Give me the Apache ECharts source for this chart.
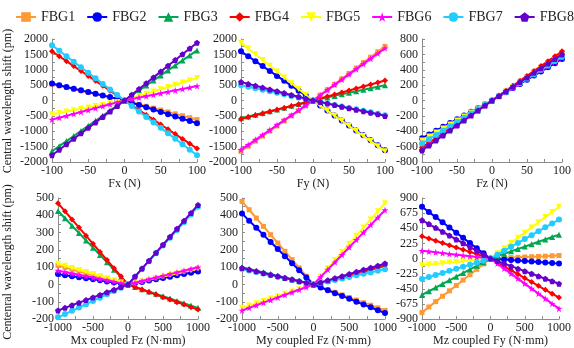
<!DOCTYPE html>
<html>
<head>
<meta charset="utf-8">
<script src="https://cdn.jsdelivr.net/npm/echarts@6/dist/echarts.min.js"></script>
<style>html,body{margin:0;padding:0;background:#fff}#c{width:574px;height:348px}</style>
</head>
<body>
<div id="c"></div>
<script>
// ---------- categories / x values ----------
const seriesNames = ['FBG1','FBG2','FBG3','FBG4','FBG5','FBG6','FBG7','FBG8'];
const xForce  = [-100,-90,-80,-70,-60,-50,-40,-30,-20,-10,0,10,20,30,40,50,60,70,80,90,100];
const xMoment = [-1000,-900,-800,-700,-600,-500,-400,-300,-200,-100,0,100,200,300,400,500,600,700,800,900,1000];
const xAxisNames = ['Fx (N)','Fy (N)','Fz (N)','Mx coupled Fz (N\u00b7mm)','My coupled Fz (N\u00b7mm)','Mz coupled Fy (N\u00b7mm)'];
const yTitleTop = 'Central wavelength shift (pm)';
const yTitleBottom = 'Centenral wavelength shift (pm)';

// ---------- Fx ----------
const fx1 = [530,477,424,371,318,265,212,159,106,53,0,-62,-124,-186,-248,-310,-372,-434,-496,-558,-620];
const fx2 = [550,495,440,385,330,275,220,165,110,55,0,-74,-148,-222,-296,-370,-444,-518,-592,-666,-740];
const fx3 = [-1650,-1485,-1320,-1155,-990,-825,-660,-495,-330,-165,0,163,326,489,652,815,978,1141,1304,1467,1630];
const fx4 = [1600,1440,1280,1120,960,800,640,480,320,160,0,-156,-312,-468,-624,-780,-936,-1092,-1248,-1404,-1560];
const fx5 = [-450,-405,-360,-315,-270,-225,-180,-135,-90,-45,0,73,146,219,292,365,438,511,584,657,730];
const fx6 = [-620,-558,-496,-434,-372,-310,-248,-186,-124,-62,0,47,94,141,188,235,282,329,376,423,470];
const fx7 = [1800,1620,1440,1260,1080,900,720,540,360,180,0,-178,-356,-534,-712,-890,-1068,-1246,-1424,-1602,-1780];
const fx8 = [-1780,-1602,-1424,-1246,-1068,-890,-712,-534,-356,-178,0,188,376,564,752,940,1128,1316,1504,1692,1880];

// ---------- Fy ----------
const fy1 = [-1650,-1485,-1320,-1155,-990,-825,-660,-495,-330,-165,0,176,352,528,704,880,1056,1232,1408,1584,1760];
const fy2 = [1600,1440,1280,1120,960,800,640,480,320,160,0,-162,-324,-486,-648,-810,-972,-1134,-1296,-1458,-1620];
const fy3 = [-580,-522,-464,-406,-348,-290,-232,-174,-116,-58,0,50,100,150,200,250,300,350,400,450,500];
const fy4 = [-600,-540,-480,-420,-360,-300,-240,-180,-120,-60,0,65,130,195,260,325,390,455,520,585,650];
const fy5 = [1880,1692,1504,1316,1128,940,752,564,376,188,0,-165,-330,-495,-660,-825,-990,-1155,-1320,-1485,-1650];
const fy6 = [-1600,-1440,-1280,-1120,-960,-800,-640,-480,-320,-160,0,170,340,510,680,850,1020,1190,1360,1530,1700];
const fy7 = [500,450,400,350,300,250,200,150,100,50,0,-48,-96,-144,-192,-240,-288,-336,-384,-432,-480];
const fy8 = [600,540,480,420,360,300,240,180,120,60,0,-50,-100,-150,-200,-250,-300,-350,-400,-450,-500];

// ---------- Fz ----------
const fz1 = [-620,-558,-496,-434,-372,-310,-248,-186,-124,-62,0,62,124,186,248,310,372,434,496,558,620];
const fz2 = [-490,-441,-392,-343,-294,-245,-196,-147,-98,-49,0,54,108,162,216,270,324,378,432,486,540];
const fz3 = [-630,-567,-504,-441,-378,-315,-252,-189,-126,-63,0,60,120,180,240,300,360,420,480,540,600];
const fz4 = [-610,-549,-488,-427,-366,-305,-244,-183,-122,-61,0,64,128,192,256,320,384,448,512,576,640];
const fz5 = [-520,-468,-416,-364,-312,-260,-208,-156,-104,-52,0,58,116,174,232,290,348,406,464,522,580];
const fz6 = [-640,-576,-512,-448,-384,-320,-256,-192,-128,-64,0,56,112,168,224,280,336,392,448,504,560];
const fz7 = [-560,-504,-448,-392,-336,-280,-224,-168,-112,-56,0,57,114,171,228,285,342,399,456,513,570];
const fz8 = [-650,-585,-520,-455,-390,-325,-260,-195,-130,-65,0,60,120,180,240,300,360,420,480,540,600];

// ---------- Mx coupled Fz ----------
const mx1 = [110,99,88,77,66,55,44,33,22,11,0,8,16,24,32,40,48,56,64,72,80];
const mx2 = [60,54,48,42,36,30,24,18,12,6,0,8,15,23,30,38,45,53,60,68,75];
const mx3 = [425,383,340,298,255,213,170,128,85,43,0,-14,-27,-41,-54,-68,-81,-95,-108,-122,-135];
const mx4 = [470,423,376,329,282,235,188,141,94,47,0,-15,-29,-44,-58,-73,-87,-102,-116,-131,-145];
const mx5 = [120,108,96,84,72,60,48,36,24,12,0,9,18,28,37,46,55,64,74,83,92];
const mx6 = [80,72,64,56,48,40,32,24,16,8,0,10,20,30,40,50,60,70,80,90,100];
const mx7 = [-190,-171,-152,-133,-114,-95,-76,-57,-38,-19,0,45,90,135,180,225,270,315,360,405,450];
const mx8 = [-150,-135,-120,-105,-90,-75,-60,-45,-30,-15,0,46,92,138,184,230,276,322,368,414,460];

// ---------- My coupled Fz ----------
const my1 = [480,432,384,336,288,240,192,144,96,48,0,-15,-30,-45,-60,-75,-90,-105,-120,-135,-150];
const my2 = [410,369,328,287,246,205,164,123,82,41,0,-17,-33,-50,-66,-83,-99,-116,-132,-149,-165];
const my3 = [100,90,80,70,60,50,40,30,20,10,0,11,21,32,42,53,63,74,84,95,105];
const my4 = [92,83,74,64,55,46,37,28,18,9,0,11,22,34,45,56,67,78,90,101,112];
const my5 = [-135,-122,-108,-95,-81,-68,-54,-41,-27,-14,0,47,94,141,188,235,282,329,376,423,470];
const my6 = [-150,-135,-120,-105,-90,-75,-60,-45,-30,-15,0,43,86,129,172,215,258,301,344,387,430];
const my7 = [90,81,72,63,54,45,36,27,18,9,0,9,18,26,35,44,53,62,70,79,88];
const my8 = [95,86,76,67,57,48,38,29,19,10,0,12,24,36,48,61,73,85,97,109,121];

// ---------- Mz coupled Fy ----------
const mz1 = [-800,-720,-640,-560,-480,-400,-320,-240,-160,-80,0,5,9,14,18,23,27,32,36,41,45];
const mz2 = [770,693,616,539,462,385,308,231,154,77,0,-8,-15,-23,-30,-38,-45,-53,-60,-68,-75];
const mz3 = [-540,-486,-432,-378,-324,-270,-216,-162,-108,-54,0,36,71,107,142,178,213,249,284,320,355];
const mz4 = [330,297,264,231,198,165,132,99,66,33,0,-58,-116,-174,-232,-290,-348,-406,-464,-522,-580];
const mz5 = [-100,-90,-80,-70,-60,-50,-40,-30,-20,-10,0,77,154,231,308,385,462,539,616,693,770];
const mz6 = [115,104,92,81,69,58,46,35,23,12,0,-75,-149,-224,-298,-373,-447,-522,-596,-671,-745];
const mz7 = [-305,-275,-244,-214,-183,-153,-122,-92,-61,-31,0,58,116,174,232,290,348,406,464,522,580];
const mz8 = [570,513,456,399,342,285,228,171,114,57,0,-38,-75,-113,-150,-188,-225,-263,-300,-338,-375];

const panelSeries = [
  [fx1,fx2,fx3,fx4,fx5,fx6,fx7,fx8],
  [fy1,fy2,fy3,fy4,fy5,fy6,fy7,fy8],
  [fz1,fz2,fz3,fz4,fz5,fz6,fz7,fz8],
  [mx1,mx2,mx3,mx4,mx5,mx6,mx7,mx8],
  [my1,my2,my3,my4,my5,my6,my7,my8],
  [mz1,mz2,mz3,mz4,mz5,mz6,mz7,mz8]
];
const panelX = [xForce,xForce,xForce,xMoment,xMoment,xMoment];

// axis ranges (tick labels)
const yMin = [-2000,-2000,-800,-200,-200,-900];
const yMax = [2000,2000,800,500,500,900];
const yStep = [500,500,200,100,100,225];
const xMin = [-100,-100,-100,-1000,-1000,-1000];
const xMax = [100,100,100,1000,1000,1000];
const xStep = [50,50,50,500,500,500];

// ---------- styling ----------
const colors = ['#FF9933','#0000FF','#00A651','#FF0000','#FFFF00','#FF00FF','#22CCFF','#6600CC'];
const starPath = 'path://M50,0 L61,35 L98,35 L68,57 L79,91 L50,70 L21,91 L32,57 L2,35 L39,35 Z';
const pentPath = 'path://M50,0 L98,35 L79,91 L21,91 L2,35 Z';
const symbols = ['rect','circle','triangle','diamond','triangle',starPath,'circle',pentPath];
const symbolRot = [0,0,0,0,180,0,0,0];
const symbolSz = [5,6,6,6,6,7,6,6];
const FONT = 'Liberation Serif';

const grids = [
  {left:52, top:39, width:145, height:123},
  {left:241, top:39, width:144, height:123},
  {left:422, top:39, width:141, height:123},
  {left:58, top:198, width:140, height:125},
  {left:242, top:198, width:143, height:125},
  {left:422, top:198, width:141, height:125}
];

const axisGray = '#8c8c8c';
const plain = v => String(v);
const xAxes = [], yAxes = [], series = [];
for (let p = 0; p < 6; p++) {
  xAxes.push({
    type:'value', gridIndex:p, min:xMin[p], max:xMax[p], interval:xStep[p],
    name:xAxisNames[p], nameLocation:'middle', nameGap: p<3 ? 11 : 13,
    nameTextStyle:{fontFamily:FONT, fontSize:12, color:'#222'},
    axisLine:{show:true, onZero:false, lineStyle:{color:axisGray, width:1}},
    axisTick:{show:true, inside:true, length:3, lineStyle:{color:axisGray}},
    minorTick:{show:true, splitNumber:2, length:3, lineStyle:{color:axisGray}},
    splitLine:{show:false},
    axisLabel:{fontFamily:FONT, fontSize:12, color:'#222', margin:3, formatter:plain, showMinLabel:true, showMaxLabel:true}
  });
  yAxes.push({
    type:'value', gridIndex:p, min:yMin[p], max:yMax[p], interval:yStep[p],
    axisLine:{show:true, onZero:false, lineStyle:{color:axisGray, width:1}},
    axisTick:{show:true, inside:true, length:3, lineStyle:{color:axisGray}},
    minorTick:{show:true, splitNumber:2, length:3, lineStyle:{color:axisGray}},
    splitLine:{show:false},
    axisLabel:{fontFamily:FONT, fontSize:12, color:'#222', margin:4, formatter:plain, showMinLabel:true, showMaxLabel:true}
  });
  const xs = panelX[p];
  panelSeries[p].forEach((ys, s) => {
    series.push({
      name:seriesNames[s], type:'line', xAxisIndex:p, yAxisIndex:p,
      data: xs.map((x,i) => [x, ys[i]]),
      symbol:symbols[s], symbolRotate:symbolRot[s], symbolSize:symbolSz[s],
      showSymbol:true, clip:false,
      lineStyle:{color:colors[s], width:2},
      itemStyle:{color:colors[s], borderWidth:0},
      emphasis:{disabled:true},
      z: 2 + s
    });
  });
}

const chart = echarts.init(document.getElementById('c'), null, {renderer:'canvas'});
chart.setOption({
  animation:false,
  backgroundColor:'#fff',
  legend:{
    data:seriesNames, left:15, top:10, padding:0, itemGap:11, itemWidth:20, itemHeight:12,
    textStyle:{fontFamily:FONT, fontSize:14, color:'#222'}
  },
  grid:grids,
  xAxis:xAxes,
  yAxis:yAxes,
  series:series,
  graphic:[
    {type:'text', x:8, y:101, rotation:Math.PI/2,
     style:{text:yTitleTop, fontFamily:FONT, fontSize:12, fill:'#222', align:'center', verticalAlign:'middle'}},
    {type:'text', x:8, y:262, rotation:Math.PI/2,
     style:{text:yTitleBottom, fontFamily:FONT, fontSize:12, fill:'#222', align:'center', verticalAlign:'middle'}}
  ]
});
</script>
</body>
</html>
